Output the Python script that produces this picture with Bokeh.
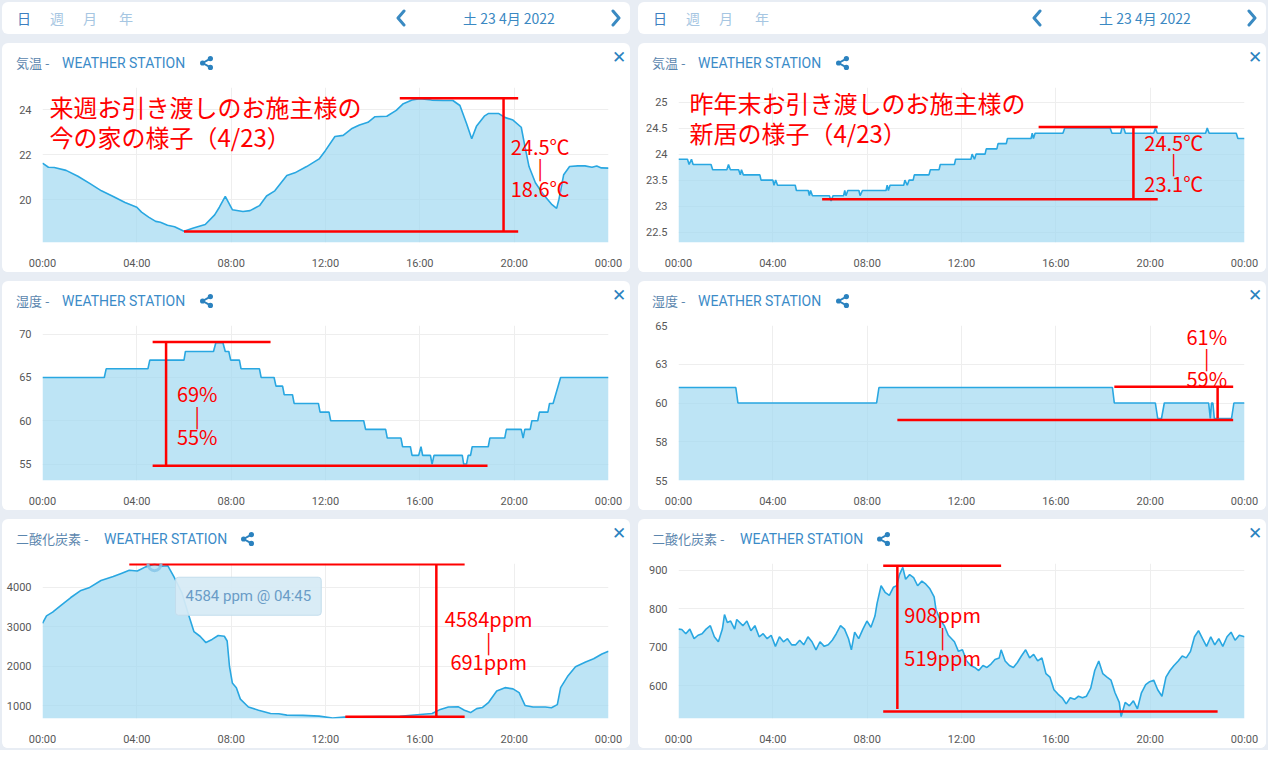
from bokeh.plotting import figure
from bokeh.models import Label, Range1d, ColumnDataSource, FixedTicker, Div
from bokeh.layouts import column, row
from bokeh.embed import file_html
from bokeh.resources import INLINE

# ---------------- data ----------------
HOUR_TICKS = [0, 4, 8, 12, 16, 20, 24]
HOUR_LABELS = ["00:00", "04:00", "08:00", "12:00", "16:00", "20:00", "00:00"]

# left column: temperature
t1_h = [0, 0.25, 0.5, 1.0, 1.5, 2.0, 2.5, 3.0, 3.5, 4.0, 4.2, 4.5, 4.8, 5.0, 5.3, 5.6, 6.0,
        6.4, 6.9, 7.3, 7.5, 7.75, 8.05, 8.5, 8.8, 9.2, 9.5, 9.85, 10.36, 10.7, 11.2, 11.73,
        12.0, 12.4, 12.75, 13.1, 13.44, 13.8, 14.1, 14.6, 15.0, 15.3, 15.67, 16.0, 16.5, 17.0,
        17.4, 17.7, 17.98, 18.2, 18.4, 18.75, 18.9, 19.35, 19.6, 19.95, 20.3, 20.46, 20.63,
        20.9, 21.23, 21.58, 21.8, 21.9, 22.1, 22.35, 22.7, 23.0, 23.3, 23.5, 23.7, 24.0]
t1_v = [21.63, 21.45, 21.44, 21.31, 21.05, 20.73, 20.4, 20.15, 19.88, 19.67, 19.45, 19.23, 19.04,
        19.0, 18.87, 18.8, 18.6, 18.75, 18.9, 19.33, 19.67, 20.15, 19.56, 19.48, 19.52, 19.74,
        20.17, 20.4, 21.08, 21.2, 21.48, 21.82, 22.2, 22.82, 22.87, 23.16, 23.33, 23.45, 23.7,
        23.72, 23.98, 24.28, 24.44, 24.5, 24.44, 24.42, 24.42, 24.2, 23.4, 22.72, 23.27, 23.74,
        23.84, 23.84, 23.67, 23.55, 23.23, 22.36, 21.48, 20.76, 20.25, 19.81, 19.62, 20.03,
        21.12, 21.48, 21.51, 21.51, 21.45, 21.51, 21.42, 21.41]

# right column: temperature
t2_h = [0, 0.38, 0.45, 0.55, 0.62, 1.38, 1.45, 2.05, 2.12, 2.2, 2.55, 2.62, 2.67, 2.75, 3.45,
        3.5, 4.0, 4.05, 4.12, 4.2, 4.95, 5.0, 5.5, 5.55, 5.6, 5.68, 6.4, 6.47, 6.55, 7.0, 7.05,
        7.1, 7.18, 7.65, 7.7, 7.8, 8.8, 8.85, 8.9, 8.97, 9.55, 9.6, 9.7, 9.78, 9.95, 10.0, 10.62,
        10.68, 11.05, 11.1, 11.7, 11.75, 12.4, 12.45, 12.55, 12.62, 13.0, 13.05, 13.5, 13.55,
        13.9, 13.95, 14.95, 15.0, 15.05, 15.12, 16.3, 16.38, 18.3, 18.38, 18.75, 18.8, 18.88,
        18.95, 20.15, 20.22, 20.3, 22.35, 22.42, 22.5, 23.65, 23.72, 24.0]
t2_v = [23.9, 23.9, 23.8, 23.9, 23.8, 23.8, 23.7, 23.7, 23.8, 23.7, 23.7, 23.6, 23.7, 23.6, 23.6,
        23.5, 23.5, 23.4, 23.5, 23.4, 23.4, 23.3, 23.3, 23.2, 23.3, 23.2, 23.2, 23.1, 23.2, 23.2,
        23.3, 23.2, 23.3, 23.3, 23.2, 23.3, 23.3, 23.4, 23.3, 23.4, 23.4, 23.5, 23.4, 23.5, 23.5,
        23.6, 23.6, 23.7, 23.7, 23.8, 23.8, 23.9, 23.9, 24.0, 23.9, 24.0, 24.0, 24.1, 24.1, 24.2,
        24.2, 24.3, 24.3, 24.4, 24.3, 24.4, 24.4, 24.5, 24.5, 24.4, 24.4, 24.5, 24.5, 24.4, 24.4,
        24.5, 24.4, 24.4, 24.5, 24.4, 24.4, 24.3, 24.3]

# left column: humidity
h1_h = [0, 2.62, 2.7, 4.47, 4.55, 6.0, 6.06, 7.25, 7.35, 7.65, 7.75, 7.9, 7.98, 8.35, 8.42, 9.2,
        9.27, 9.82, 9.9, 10.18, 10.25, 10.6, 10.67, 11.7, 11.77, 12.15, 12.22, 13.62, 13.7,
        14.55, 14.62, 15.2, 15.27, 15.6, 15.67, 15.95, 16.05, 16.12, 16.45, 16.52, 16.6, 17.8,
        17.86, 17.98, 18.05, 18.15, 18.22, 18.9, 18.97, 19.6, 19.67, 20.3, 20.38, 20.45, 20.68,
        20.75, 21.0, 21.07, 21.43, 21.5, 21.65, 21.97, 24.0]
h1_v = [65, 65, 66, 66, 67, 67, 68, 68, 69, 69, 68, 68, 67, 67, 66, 66, 65, 65, 64, 64, 63, 63,
        62, 62, 61, 61, 60, 60, 59, 59, 58, 58, 57, 57, 56, 56, 57, 56, 56, 55, 56, 56, 55, 55,
        56, 56, 57, 57, 58, 58, 59, 59, 58, 59, 59, 60, 60, 61, 61, 62, 62, 65, 65]

# right column: humidity
h2_h = [0, 2.43, 2.52, 8.4, 8.5, 18.4, 18.48, 20.22, 20.32, 20.48, 20.6, 22.48, 22.55, 22.6,
        22.66, 22.72, 23.45, 23.55, 24.0]
h2_v = [61, 61, 60, 60, 61, 61, 60, 60, 59, 59, 60, 60, 59, 60, 60, 59, 59, 60, 60]

# left column: CO2
c1_h = [0.0, 0.17, 0.43, 0.77, 1.2, 1.63, 1.97, 2.48, 3.0, 3.34, 3.68, 4.02, 4.37, 4.75, 5.05,
        5.31, 5.57, 5.91, 6.16, 6.42, 6.68, 6.93, 7.19, 7.45, 7.71, 7.83, 7.93, 8.05, 8.22, 8.39,
        8.73, 9.16, 9.67, 10.02, 10.36, 11.04, 11.73, 12.3, 12.8, 13.44, 14.3, 15.15, 16.01,
        16.52, 16.87, 17.21, 17.64, 17.89, 18.15, 18.41, 18.66, 18.92, 19.26, 19.61, 19.95,
        20.21, 20.46, 20.8, 21.32, 21.58, 21.83, 21.97, 22.26, 22.6, 23.03, 23.37, 23.72, 24.0]
c1_v = [3087, 3275, 3370, 3535, 3740, 3920, 3985, 4170, 4270, 4350, 4430, 4410, 4515, 4584, 4530,
        4545, 4270, 3860, 3370, 2880, 2760, 2600, 2680, 2780, 2760, 2640, 1990, 1580, 1460, 1170,
        970, 890, 805, 800, 765, 760, 740, 691, 715, 720, 730, 735, 780, 805, 910, 970, 975, 890,
        830, 930, 960, 1090, 1375, 1460, 1430, 1335, 1010, 970, 970, 950, 1030, 1460, 1740, 1990,
        2110, 2190, 2310, 2380]

# right column: CO2
c2_h = [0.0, 0.14, 0.31, 0.48, 0.66, 0.83, 1.0, 1.17, 1.35, 1.52, 1.69, 1.86, 1.95, 2.07, 2.21,
        2.38, 2.47, 2.73, 2.9, 3.07, 3.24, 3.42, 3.59, 3.76, 3.93, 4.11, 4.28, 4.45, 4.62, 4.8,
        4.97, 5.14, 5.31, 5.49, 5.66, 5.83, 6.0, 6.18, 6.35, 6.52, 6.69, 6.87, 7.04, 7.21, 7.33,
        7.47, 7.64, 7.82, 7.99, 8.16, 8.33, 8.42, 8.59, 8.76, 8.94, 9.11, 9.25, 9.37, 9.51, 9.63,
        9.8, 9.97, 10.14, 10.32, 10.49, 10.66, 10.84, 10.92, 11.09, 11.27, 11.44, 11.7, 11.87,
        12.04, 12.22, 12.39, 12.56, 12.73, 12.91, 13.08, 13.25, 13.42, 13.6, 13.68, 13.85, 14.03,
        14.2, 14.37, 14.54, 14.72, 14.89, 15.06, 15.23, 15.41, 15.58, 15.75, 15.92, 16.1, 16.27,
        16.44, 16.61, 16.79, 16.96, 17.13, 17.3, 17.48, 17.65, 17.82, 17.99, 18.17, 18.34, 18.51,
        18.69, 18.77, 18.94, 19.12, 19.29, 19.46, 19.63, 19.81, 19.98, 20.15, 20.32, 20.5, 20.67,
        20.84, 21.01, 21.19, 21.36, 21.53, 21.71, 21.88, 22.05, 22.22, 22.39, 22.57, 22.74, 22.91,
        23.08, 23.26, 23.43, 23.6, 23.78, 24.0]
c2_v = [747, 746, 735, 747, 722, 731, 735, 747, 756, 727, 714, 747, 785, 764, 768, 747, 772, 756,
        768, 743, 756, 727, 735, 722, 731, 702, 727, 714, 722, 706, 706, 718, 706, 727, 714, 693,
        714, 702, 706, 718, 735, 756, 747, 722, 693, 739, 722, 747, 768, 752, 781, 814, 860, 843,
        835, 856, 860, 889, 908, 877, 889, 881, 860, 872, 864, 852, 831, 797, 772, 756, 731, 714,
        689, 693, 664, 652, 647, 639, 652, 647, 656, 668, 672, 693, 664, 652, 647, 660, 677, 693,
        672, 681, 664, 672, 631, 622, 589, 577, 568, 552, 568, 564, 572, 568, 572, 593, 639, 664,
        631, 622, 614, 581, 556, 519, 556, 547, 560, 539, 581, 602, 610, 614, 589, 572, 622, 639,
        652, 664, 677, 672, 689, 727, 743, 722, 702, 727, 706, 722, 702, 727, 739, 718, 731, 727]

# hand-drawn red annotations (x0, x1, y) for horizontal lines, (x, y0, y1) for the vertical one
t1_hl = dict(x0=[15.15, 6.0], x1=[20.17, 20.17], y=[24.52, 18.59])
t1_vl = dict(x=[19.55], y0=[24.52], y1=[18.59])
t1_txt = dict(x=21.1, y=[22.39, 21.45, 20.5], t=["24.5℃", "|", "18.6℃"])
t2_hl = dict(x0=[15.27, 6.09], x1=[20.32, 20.32], y=[24.52, 23.13])
t2_vl = dict(x=[19.29], y0=[24.52], y1=[23.13])
t2_txt = dict(x=21.0, y=[24.23, 23.83, 23.43], t=["24.5℃", "|", "23.1℃"])
h1_hl = dict(x0=[4.67, 4.67], x1=[9.67, 18.87], y=[69.1, 54.8])
h1_vl = dict(x=[5.24], y0=[69.1], y1=[54.8])
h1_txt = dict(x=6.56, y=[63.16, 60.6, 58.16], t=["69%", "|", "55%"])
h2_hl = dict(x0=[18.48, 9.28], x1=[23.52, 23.52], y=[61.05, 58.9])
h2_vl = dict(x=[22.86], y0=[61.05], y1=[59.0])
h2_txt = dict(x=22.4, y=[64.3, 62.95, 61.58], t=["61%", "|", "59%"])
c1_hl = dict(x0=[3.68, 12.84], x1=[17.9, 17.9], y=[4584, 723])
c1_vl = dict(x=[16.7], y0=[4584], y1=[723])
c1_txt = dict(x=18.92, y=[3210, 2640, 2110], t=["4584ppm", "|", "691ppm"])
c2_hl = dict(x0=[8.68, 8.68], x1=[13.68, 22.86], y=[912, 532])
c2_vl = dict(x=[9.28], y0=[912], y1=[539])
c2_txt = dict(x=11.2, y=[785, 727, 672], t=["908ppm", "|", "519ppm"])

tip_point = dict(x=[4.75], y=[4584])
tip_text = "4584 ppm @ 04:45"

caption_left = ["来週お引き渡しのお施主様の", "今の家の様子（4/23）"]
caption_right = ["昨年末お引き渡しのお施主様の", "新居の様子（4/23）"]

header_tabs = ["日", "週", "月", "年"]
header_date = "土 23 4月 2022"
station = "WEATHER STATION"

# ---------------- styling ----------------
W = 628                 # card width
TH = 36                 # card title strip height
H = 193                 # chart height below the title strip
ML, MR, MT, MB = 40, 22, 8, 30
FW, FH = W - ML - MR, H - MT - MB
JP = "Noto Sans CJK JP"
LAT = "Roboto"
LINE = "#29a7e1"
FILL = "#a4d9f1"
RED = "#ff0000"
BG = "#e8edf4"
ICON = "#2b82bf"
CARD = {"background-color": "white", "border-radius": "6px", "overflow": "hidden"}

SHARE_SVG = ('<svg width="13" height="14" viewBox="0 0 13 14" style="position:absolute;left:{x}px;top:13px">'
             '<line x1="2.6" y1="7" x2="10.4" y2="2.6" stroke="{c}" stroke-width="2"/>'
             '<line x1="2.6" y1="7" x2="10.4" y2="11.4" stroke="{c}" stroke-width="2"/>'
             '<circle cx="2.6" cy="7" r="2.6" fill="{c}"/><circle cx="10.4" cy="2.6" r="2.6" fill="{c}"/>'
             '<circle cx="10.4" cy="11.4" r="2.6" fill="{c}"/></svg>')


def make_header():
    tabs = "".join(
        f'<span style="position:absolute;left:{lx}px;top:0;line-height:32px;'
        f'color:{"#3d7fc0" if i == 0 else "#a6c6e2"}">{t}</span>'
        for i, (t, lx) in enumerate(zip(header_tabs, [15, 48, 81, 117])))
    chev = ('<svg width="12" height="18" style="position:absolute;left:{x}px;top:7px">'
            '<polyline points="{p}" fill="none" stroke="#3a8ac2" stroke-width="3" '
            'stroke-linecap="round" stroke-linejoin="round"/></svg>')
    html = (f'<div style="position:relative;width:{W}px;height:32px;font-family:\'{JP}\',sans-serif;'
            f'font-size:14px">{tabs}'
            + chev.format(x=393, p="9,2 3,9 9,16")
            + f'<span style="position:absolute;left:447px;width:120px;text-align:center;top:0;'
              f'line-height:32px;color:#3a88c2">{header_date}</span>'
            + chev.format(x=608, p="3,2 9,9 3,16") + '</div>')
    return Div(text=html, width=W, height=32, margin=0, styles=dict(CARD))


def make_title(name, ws_x, share_x):
    html = (f'<div style="position:relative;width:{W}px;height:{TH}px;font-size:13px;'
            f'font-family:\'{JP}\',sans-serif">'
            f'<span style="position:absolute;left:14px;top:0;line-height:40px;color:#5b86ae">{name}</span>'
            f'<span style="position:absolute;left:{ws_x}px;top:0;line-height:40px;color:#3b8bc8;'
            f'font-size:14px;font-family:{LAT},sans-serif">{station}</span>'
            + SHARE_SVG.format(x=share_x, c=ICON)
            + f'<span style="position:absolute;left:610px;top:0;line-height:28px;font-size:17px;'
              f'font-weight:bold;font-family:\'DejaVu Sans\';color:{ICON}">✕</span></div>')
    return Div(text=html, width=W, height=TH, margin=0)


def make_chart(hours, vals, ylo, yhi, yticks, ylabels, hl, vl, txt,
               caption=None, cap_x=7, cap_y=19):
    p = figure(width=W, height=H, output_backend="svg", toolbar_location=None,
               x_range=Range1d(0, 24), y_range=Range1d(ylo, yhi),
               min_border_left=ML, min_border_right=MR, min_border_top=MT,
               min_border_bottom=MB, background_fill_color="white",
               border_fill_color="white", outline_line_color=None, margin=0)
    src = ColumnDataSource(dict(x=hours, y=vals, y0=[ylo] * len(hours)))
    p.varea(x="x", y1="y0", y2="y", source=src, fill_color=FILL, fill_alpha=0.72)
    p.line("x", "y", source=src, line_color=LINE, line_width=1.6)

    p.xaxis.ticker = FixedTicker(ticks=HOUR_TICKS)
    p.xaxis.major_label_overrides = dict(zip(HOUR_TICKS, HOUR_LABELS))
    p.yaxis.ticker = FixedTicker(ticks=yticks)
    p.yaxis.major_label_overrides = dict(zip(yticks, ylabels))
    for ax in p.axis:
        ax.axis_line_color = None
        ax.major_tick_line_color = None
        ax.minor_tick_line_color = None
        ax.major_label_text_font = LAT
        ax.major_label_text_font_size = "11px"
        ax.major_label_text_color = "#585858"
    p.xaxis.major_label_standoff = 8
    p.yaxis.major_label_standoff = 5
    p.grid.grid_line_color = "#eeeeee"

    # red hand-drawn annotations
    p.segment(x0=hl["x0"], y0=hl["y"], x1=hl["x1"], y1=hl["y"], line_color=RED, line_width=2.5)
    p.segment(x0=vl["x"], y0=vl["y0"], x1=vl["x"], y1=vl["y1"], line_color=RED, line_width=2.5)
    for yy, tt in zip(txt["y"], txt["t"]):
        p.add_layout(Label(x=txt["x"], y=yy, text=tt, text_color=RED,
                           text_font=JP, text_font_size="20px",
                           text_align="center", text_baseline="middle"))
    if caption:
        for i, line in enumerate(caption):
            p.add_layout(Label(x=cap_x, y=FH - cap_y - 30 * i, x_units="screen", y_units="screen",
                               text=line, text_color=RED, text_font=JP,
                               text_font_size="24px", text_baseline="middle"))
    return p


def card(title, chart):
    return column(title, chart, spacing=0, margin=0, styles=dict(CARD))


ct1 = make_chart(t1_h, t1_v, 18.1, 25.0, [20, 22, 24], ["20", "22", "24"],
                 t1_hl, t1_vl, t1_txt, caption_left, 7, 19)
ch1 = make_chart(h1_h, h1_v, 53.1, 71.0, [55, 60, 65, 70], ["55", "60", "65", "70"],
                 h1_hl, h1_vl, h1_txt)
cc1 = make_chart(c1_h, c1_v, 680, 4600, [1000, 2000, 3000, 4000],
                 ["1000", "2000", "3000", "4000"], c1_hl, c1_vl, c1_txt)
cc1.scatter(x=tip_point["x"], y=tip_point["y"], size=13, fill_color=None,
            line_color="#86c6e8", line_width=3, line_alpha=0.85)
cc1.add_layout(Label(x=8.73, y=3772, text=tip_text, text_align="center", text_baseline="middle",
                     text_font=LAT, text_font_size="15px", text_color="#6a9cc7",
                     background_fill_color="#d6eaf5", background_fill_alpha=0.92,
                     border_line_color="#c3dded", padding=10, border_radius=3))

ct2 = make_chart(t2_h, t2_v, 22.3, 25.28, [22.5, 23, 23.5, 24, 24.5, 25],
                 ["22.5", "23", "23.5", "24", "24.5", "25"], t2_hl, t2_vl, t2_txt,
                 caption_right, 11, 15)
ch2 = make_chart(h2_h, h2_v, 55, 65, [55, 57.5, 60, 62.5, 65], ["55", "58", "60", "63", "65"],
                 h2_hl, h2_vl, h2_txt)
cc2 = make_chart(c2_h, c2_v, 514, 918, [600, 700, 800, 900], ["600", "700", "800", "900"],
                 c2_hl, c2_vl, c2_txt)

left = column(make_header(),
              card(make_title("気温 -", 60, 198), ct1),
              card(make_title("湿度 -", 60, 198), ch1),
              card(make_title("二酸化炭素 -", 102, 239), cc1), spacing=9, margin=0)
right = column(make_header(),
               card(make_title("気温 -", 60, 198), ct2),
               card(make_title("湿度 -", 60, 198), ch2),
               card(make_title("二酸化炭素 -", 102, 239), cc2), spacing=9, margin=0)
root = row(left, right, spacing=8, margin=0, styles={"background-color": BG, "padding": "2px"})

open("out.html", "w").write(file_html(root, INLINE))
